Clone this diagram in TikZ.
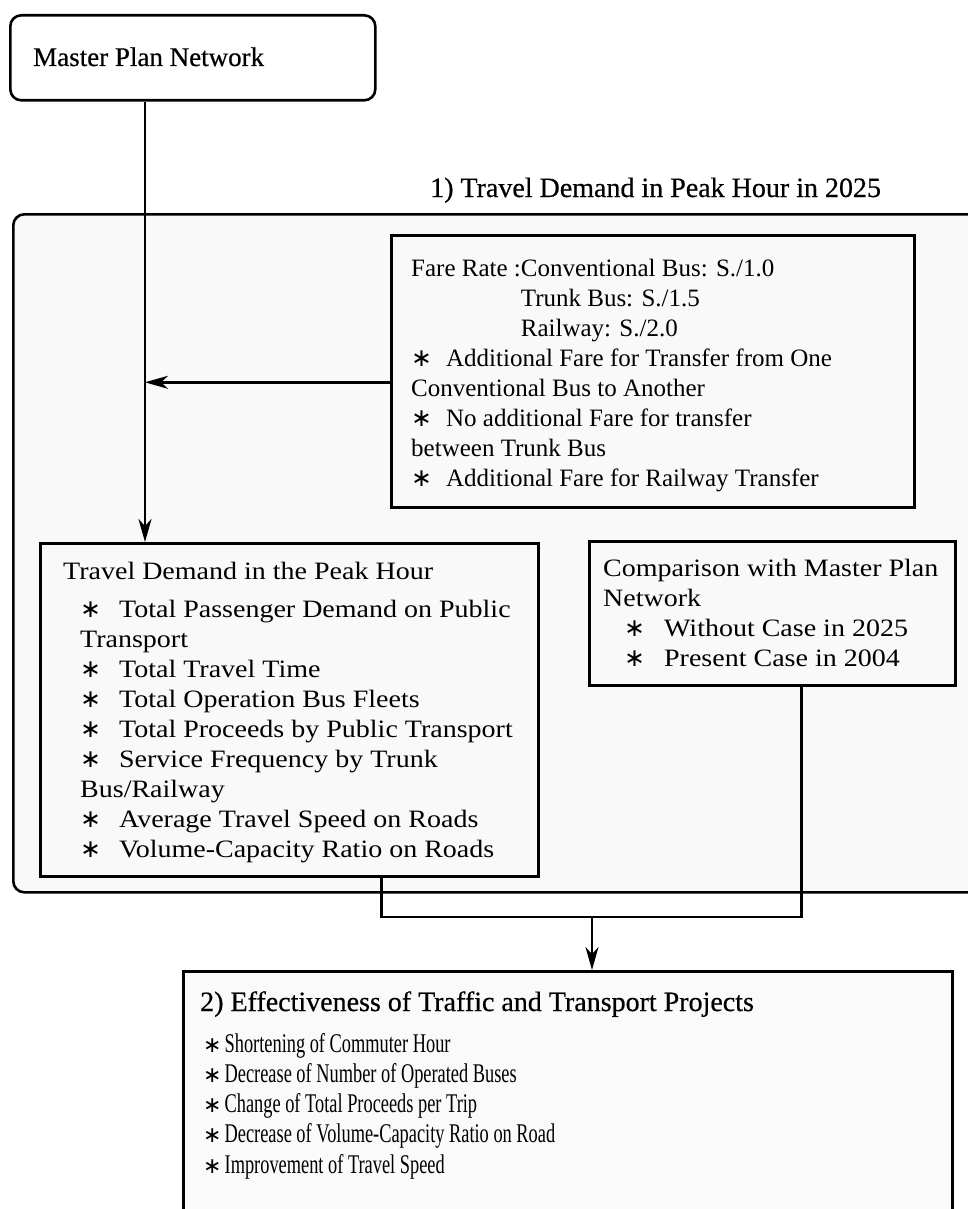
\documentclass[tikz,border=0pt]{standalone}
\usepackage{fontspec}
\usepackage{graphicx}
\setmainfont[FakeStretch=1.12]{Liberation Serif}
\newfontfamily\farefont[FakeStretch=1.0]{Liberation Serif}
\newfontfamily\titlefont[FakeBold=0.5]{Liberation Serif}
\newfontfamily\condfont[FakeStretch=0.68]{Liberation Serif}
\newfontfamily\astfont{DejaVu Sans}
\usetikzlibrary{arrows.meta}
\newcommand\myast{{\astfont\fontsize{25}{30}\selectfont ∗}}
\newcommand\smallast{{\astfont\fontsize{22}{30}\selectfont ∗}}
\begin{document}
\begin{tikzpicture}[x=1pt,y=-1pt,
  line/.style={line width=2.6pt, draw=black},
  arr/.style={line, -{Stealth[length=23pt,width=13pt,inset=7pt]}},
  box/.style={draw, line width=2.6pt, fill=gray!5, inner sep=0pt, anchor=north west},
  txt/.style={anchor=base west, inner sep=0pt},
  bodyfont/.style={font=\fontsize{25}{30}\selectfont},
  headfont/.style={font=\titlefont\fontsize{28}{32}\selectfont}
]
\useasboundingbox (0,0) rectangle (968,1209);
\clip (0,0) rectangle (968,1209);

% containers
\node[box, rounded corners=11pt, minimum width=990pt, minimum height=678pt] (area) at (12,213) {};
\node[box, fill=white, rounded corners=11pt, minimum width=365pt, minimum height=85pt] (mp) at (9,14) {};
\node[box, minimum width=523pt, minimum height=272pt] (fare) at (390,234) {};
\node[box, minimum width=498pt, minimum height=333pt] (td) at (39,542) {};
\node[box, minimum width=366pt, minimum height=144pt] (cmp) at (588,540) {};
\node[box, fill=gray!4, minimum width=769pt, minimum height=320pt] (eff) at (182,970) {};

% texts
\node[txt, font=\titlefont\fontsize{27}{32}\selectfont] (mpt) at (33,66) {Master Plan Network};
\node[txt, headfont] (areat) at (430,197) {1) Travel Demand in Peak Hour in 2025};

\node[txt] (faret) at (411,276) {\parbox[t]{495pt}{\farefont\fontsize{25}{30}\selectfont
Fare Rate :Conventional Bus: S./1.0\\
\phantom{Fare Rate :}Trunk Bus: S./1.5\\
\phantom{Fare Rate :}Railway: S./2.0\\
\myast\hspace{14pt}Additional Fare for Transfer from One\\
Conventional Bus to Another\\
\myast\hspace{14pt}No additional Fare for transfer\\
between Trunk Bus\\
\myast\hspace{14pt}Additional Fare for Railway Transfer}};

\node[txt, bodyfont] (tdt) at (63,579) {Travel Demand in the Peak Hour};
\node[txt, bodyfont] (tdi) at (80,617) {\parbox[t]{450pt}{\fontsize{25}{30}\selectfont
\myast\hspace{18pt}Total Passenger Demand on Public\\
Transport\\
\myast\hspace{18pt}Total Travel Time\\
\myast\hspace{18pt}Total Operation Bus Fleets\\
\myast\hspace{18pt}Total Proceeds by Public Transport\\
\myast\hspace{18pt}Service Frequency by Trunk\\
Bus/Railway\\
\myast\hspace{18pt}Average Travel Speed on Roads\\
\myast\hspace{18pt}Volume-Capacity Ratio on Roads}};

\node[txt, bodyfont] (cmpt) at (603,576) {\parbox[t]{345pt}{\fontsize{25}{30}\selectfont
Comparison with Master Plan\\
Network\\
\hspace*{21pt}\myast\hspace{19pt}Without Case in 2025\\
\hspace*{21pt}\myast\hspace{19pt}Present Case in 2004}};

\node[txt, headfont] (efft) at (200,1011) {2) Effectiveness of Traffic and Transport Projects};
\node[txt] (effi) at (203,1052) {\parbox[t]{700pt}{\condfont\fontsize{27}{30.3}\selectfont
\smallast\hspace{3pt}Shortening of Commuter Hour\\
\smallast\hspace{3pt}Decrease of Number of Operated Buses\\
\smallast\hspace{3pt}Change of Total Proceeds per Trip\\
\smallast\hspace{3pt}Decrease of Volume-Capacity Ratio on Road\\
\smallast\hspace{3pt}Improvement of Travel Speed}};

% connectors
\coordinate (vx) at (145,0);
\coordinate (m) at (592,917);
\draw[arr] (mp.south -| vx) -- (td.north -| vx);
\draw[arr] ([yshift=-11pt]fare.west) -- ([yshift=-11pt]fare.west -| vx);
\draw[line] ([xshift=92pt]td.south) |- (m) -| ([xshift=29pt]cmp.south);
\draw[arr] (m) -- (m |- eff.north);
\end{tikzpicture}
\end{document}
